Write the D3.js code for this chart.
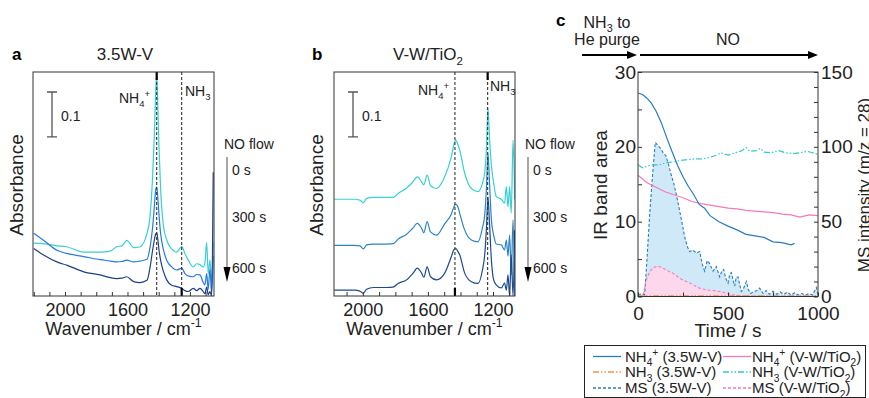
<!DOCTYPE html>
<html>
<head>
<meta charset="utf-8">
<script src="https://d3js.org/d3.v7.min.js"></script>
<style>
body { margin: 0; background: #fff; }
svg { display: block; font-family: "Liberation Sans", Arial, sans-serif; }
</style>
</head>
<body>
<svg id="chart" width="869" height="398"></svg>
<script>
// ---- panel a: 3.5W-V spectra (wavenumber / absorbance) ----
const waveA = [2200, 2140, 2045, 1990, 1880, 1775, 1710, 1670, 1635, 1605, 1560, 1520, 1475, 1455, 1440, 1428, 1420, 1413, 1407, 1399, 1388, 1371, 1349, 1317, 1285, 1253, 1232, 1211, 1179, 1157, 1136, 1115, 1104, 1093, 1083, 1072, 1061, 1051];
const a0s = [0.118, 0.117, 0.112, 0.110, 0.098, 0.098, 0.100, 0.110, 0.112, 0.124, 0.108, 0.110, 0.140, 0.180, 0.260, 0.360, 0.450, 0.495, 0.440, 0.340, 0.240, 0.160, 0.125, 0.105, 0.098, 0.110, 0.095, 0.080, 0.065, 0.072, 0.070, 0.065, 0.075, 0.120, 0.050, 0.080, 0.030, 0.120];
const a300s = [0.140, 0.125, 0.101, 0.095, 0.088, 0.081, 0.078, 0.076, 0.077, 0.080, 0.076, 0.078, 0.082, 0.110, 0.150, 0.200, 0.235, 0.243, 0.225, 0.185, 0.140, 0.105, 0.080, 0.065, 0.058, 0.062, 0.050, 0.045, 0.043, 0.048, 0.047, 0.030, 0.025, 0.050, 0.015, 0.060, 0.005, 0.090];
const a600s = [0.106, 0.092, 0.075, 0.069, 0.054, 0.047, 0.041, 0.039, 0.040, 0.043, 0.032, 0.030, 0.035, 0.065, 0.100, 0.125, 0.138, 0.141, 0.130, 0.105, 0.080, 0.056, 0.036, 0.024, 0.021, 0.017, 0.012, 0.010, 0.017, 0.012, 0.017, 0.010, 0.005, 0.020, 0.003, 0.010, 0.000, 0.276];

// ---- panel b: V-W/TiO2 spectra ----
const waveB = [2175, 2050, 2018, 1997, 1977, 1936, 1854, 1813, 1783, 1731, 1691, 1666, 1639, 1625, 1605, 1584, 1547, 1497, 1456, 1441, 1429, 1415, 1405, 1374, 1333, 1292, 1265, 1251, 1241, 1231, 1221, 1210, 1196, 1180, 1149, 1129, 1118, 1108, 1098, 1088, 1077, 1067];
const b0s = [0.216, 0.216, 0.214, 0.208, 0.218, 0.220, 0.220, 0.220, 0.229, 0.241, 0.255, 0.266, 0.255, 0.248, 0.270, 0.246, 0.240, 0.266, 0.311, 0.337, 0.348, 0.337, 0.326, 0.274, 0.240, 0.233, 0.252, 0.275, 0.326, 0.419, 0.348, 0.292, 0.252, 0.222, 0.216, 0.207, 0.244, 0.199, 0.244, 0.185, 0.348, 0.216];
const b300s = [0.113, 0.113, 0.112, 0.105, 0.114, 0.116, 0.116, 0.117, 0.127, 0.138, 0.152, 0.162, 0.151, 0.141, 0.166, 0.143, 0.136, 0.161, 0.183, 0.198, 0.205, 0.198, 0.185, 0.147, 0.125, 0.121, 0.152, 0.181, 0.237, 0.319, 0.248, 0.170, 0.136, 0.116, 0.114, 0.103, 0.125, 0.089, 0.136, 0.047, 0.170, 0.000];
const b600s = [0.013, 0.013, 0.011, 0.006, 0.015, 0.019, 0.019, 0.020, 0.028, 0.036, 0.051, 0.062, 0.051, 0.042, 0.065, 0.043, 0.036, 0.051, 0.088, 0.103, 0.106, 0.099, 0.092, 0.051, 0.032, 0.028, 0.058, 0.092, 0.147, 0.221, 0.158, 0.080, 0.036, 0.025, 0.018, 0.029, 0.013, 0.047, 0.000, 0.092, 0.000, 0.147];

// ---- panel c: IR band area (left axis) and MS intensity (right axis) vs time ----
const tNH4a = [0, 25, 50, 75, 100, 130, 160, 190, 220, 250, 280, 310, 340, 370, 400, 450, 500, 550, 600, 650, 700, 750, 800, 850, 870];
const nh4a = [27.2, 27.0, 26.5, 25.8, 24.8, 23.2, 21.2, 19.3, 17.5, 16.0, 14.7, 13.6, 12.3, 11.8, 10.8, 10.0, 9.4, 8.9, 8.3, 8.1, 7.9, 7.3, 7.2, 6.9, 7.1];
const tNH4b = [0, 50, 100, 150, 200, 250, 300, 350, 400, 450, 500, 550, 600, 650, 700, 750, 800, 850, 900, 950, 1000];
const nh4b = [16.2, 15.2, 14.6, 14.0, 13.6, 13.2, 12.7, 12.4, 12.2, 12.0, 11.8, 11.7, 11.5, 11.4, 11.3, 11.2, 11.0, 10.9, 10.6, 10.9, 10.8];
const tNH3a = [0, 100, 200, 300, 400, 500, 600, 700, 800, 900, 1000];
const nh3a = [0.05, 0.05, 0.05, 0.05, 0.05, 0.05, 0.05, 0.05, 0.05, 0.05, 0.05];
const tNH3b = [0, 25, 50, 80, 120, 160, 200, 240, 280, 320, 360, 400, 440, 460, 500, 540, 580, 600, 620, 660, 680, 700, 740, 780, 820, 860, 900, 940, 1000];
const nh3b = [17.6, 17.2, 17.4, 17.6, 17.6, 17.9, 18.0, 18.2, 18.3, 18.4, 18.4, 18.6, 18.9, 19.2, 18.9, 19.2, 19.5, 19.9, 19.4, 19.5, 19.8, 19.3, 19.2, 19.5, 19.2, 19.1, 19.2, 19.4, 19.0];
const tMSa = [0, 20, 37, 50, 65, 80, 96, 110, 125, 140, 155, 170, 185, 200, 215, 230, 245, 259, 275, 287, 305, 324, 343, 356, 370, 385, 398, 417, 435, 454, 465, 476, 488, 500, 510, 519, 528, 537, 546, 556, 565, 574, 585, 602, 612, 625, 640, 660, 676, 695, 712, 730, 750, 770, 790, 810, 830, 850, 870, 890, 910, 930, 950, 970, 991, 1000];
const msA = [1.5, 1.5, 1, 25, 55, 80, 103, 101, 99, 96, 94, 88, 81, 75, 67, 58, 49, 40, 33, 30, 31, 29, 30, 22, 17, 24, 22, 17, 20, 13, 17, 18, 12, 9, 15, 16, 11, 7, 13, 13, 8, 3.3, 5, 10, 5, 2, 3, 4, 5.6, 2, 4, 1.5, 3.5, 1.5, 3, 1.5, 3, 1, 2.5, 1, 2, 1, 2, 1, 6, 1];
const tMSb = [0, 20, 30, 46, 60, 74, 90, 102, 115, 130, 145, 157, 175, 194, 212, 231, 250, 269, 288, 306, 325, 343, 362, 380, 400, 420, 437, 454, 472, 491, 510, 528, 547, 565, 600, 700, 800, 900, 1000];
const msB = [0, 0.5, 2, 11, 15, 18, 19.5, 20, 20, 19.5, 18.5, 17.8, 16.5, 15.6, 14, 12.2, 11, 10, 9, 7.8, 6.5, 5.6, 5, 4.4, 4.2, 4, 3.6, 3.3, 2.8, 2.2, 1.6, 1.1, 0.8, 0.5, 0.3, 0.2, 0.2, 0.1, 0.1];

const timeLabels = ["0 s", "300 s", "600 s"];

const svg = d3.select("#chart");
const ink = "#222";

// write text with sub/superscripts: parts = [[str, ""|"sub"|"sup"], ...]
function rich(t, parts, size) {
  let shift = 0;
  parts.forEach(([s, kind]) => {
    const target = kind === "sub" ? size * 0.28 : kind === "sup" ? -size * 0.42 : 0;
    t.append("tspan").attr("dy", target - shift)
      .attr("font-size", kind ? size * 0.68 : size).text(s);
    shift = target;
  });
  return t;
}

function arrowHead(x, y, dir, w, h) {
  // dir: "down" or "right"
  const p = dir === "down"
    ? [[x - w / 2, y - h], [x + w / 2, y - h], [x, y]]
    : [[x - h, y - w / 2], [x - h, y + w / 2], [x, y]];
  svg.append("path").attr("d", "M" + p.join("L") + "Z").attr("fill", "#000");
}

const yAbs = d3.scaleLinear().domain([0, 0.5]).range([296, 72]);

function spectra(p) {
  const x = p.x, [x0, x1] = x.range();
  const g = svg.append("g");
  g.append("clipPath").attr("id", "clip" + p.letter)
    .append("rect").attr("x", x0).attr("y", 72).attr("width", x1 - x0).attr("height", 224);

  const line = d3.line().curve(d3.curveMonotoneX).x((d, i) => x(p.waves[i])).y(d => yAbs(d));
  p.series.forEach((s, k) => {
    g.append("path").attr("clip-path", `url(#clip${p.letter})`)
      .attr("d", line(s)).attr("fill", "none")
      .attr("stroke", p.colors[k]).attr("stroke-width", 1.2);
  });

  // band positions
  [p.nh4, p.nh3].forEach(w => {
    g.append("line").attr("x1", x(w)).attr("x2", x(w)).attr("y1", 72).attr("y2", 296)
      .attr("stroke", "#333").attr("stroke-width", 1.1).attr("stroke-dasharray", "3,2");
  });
  g.append("line").attr("x1", x(p.topMark)).attr("x2", x(p.topMark)).attr("y1", 72).attr("y2", 80)
    .attr("stroke", "#000").attr("stroke-width", 2.2);
  g.append("line").attr("x1", x(p.botMark)).attr("x2", x(p.botMark)).attr("y1", 288).attr("y2", 296)
    .attr("stroke", "#000").attr("stroke-width", 2.2);

  const [dMax, dMin] = x.domain();
  const ax = g.append("g").attr("transform", "translate(0,296)")
    .call(d3.axisBottom(x)
      .tickValues(d3.range(1100, 2201, 100).filter(v => v <= dMax && v >= dMin))
      .tickSize(-4).tickPadding(7)
      .tickFormat(d => d % 400 === 0 ? d : ""));
  ax.select(".domain").remove();
  ax.selectAll("line").attr("stroke", "#333");
  ax.selectAll("text").attr("font-size", 18).attr("font-family", "Liberation Sans, Arial, sans-serif").attr("fill", ink);

  g.append("rect").attr("x", x0).attr("y", 72).attr("width", x1 - x0).attr("height", 224)
    .attr("fill", "none").attr("stroke", "#333").attr("stroke-width", 1);

  // scale bar 0.1
  const sb = p.barX, top = 92, bot = top + (yAbs(0) - yAbs(0.1));
  g.append("path").attr("d", `M${sb - 5},${top}H${sb + 5}M${sb},${top}V${bot}M${sb - 5},${bot}H${sb + 5}`)
    .attr("stroke", "#555").attr("stroke-width", 1.3).attr("fill", "none");
  g.append("text").attr("x", sb + 9).attr("y", 121).attr("font-size", 14).attr("fill", ink).text("0.1");

  // labels
  g.append("text").attr("x", p.letterX).attr("y", 60).attr("font-size", 17).attr("font-weight", "bold").text(p.letter);
  rich(g.append("text").attr("x", p.titleX).attr("y", 60).attr("text-anchor", "middle").attr("fill", ink), p.title, 17);
  g.append("text").attr("transform", `translate(${p.ylabX},185) rotate(-90)`)
    .attr("text-anchor", "middle").attr("font-size", 19).attr("fill", ink).text("Absorbance");
  rich(g.append("text").attr("x", (x0 + x1) / 2).attr("y", 335).attr("text-anchor", "middle").attr("fill", ink),
    [["Wavenumber / cm", ""], ["-1", "sup"]], 18);
  rich(g.append("text").attr("x", p.nh4LabX).attr("y", p.nh4LabY).attr("fill", ink),
    [["NH", ""], ["4", "sub"], ["+", "sup"]], 14);
  rich(g.append("text").attr("x", p.nh3LabX).attr("y", p.nh3LabY).attr("fill", ink),
    [["NH", ""], ["3", "sub"]], 14);

  // NO flow arrow
  const ar = p.arrowX;
  g.append("text").attr("x", ar - 3).attr("y", 149).attr("font-size", 14).attr("fill", ink).text("NO flow");
  g.append("line").attr("x1", ar).attr("x2", ar).attr("y1", 157).attr("y2", 268)
    .attr("stroke", "#777").attr("stroke-width", 1.3);
  arrowHead(ar, 282, "down", 7, 15);
  [175, 222, 273].forEach((yy, i) => {
    g.append("text").attr("x", ar + 5).attr("y", yy).attr("font-size", 14).attr("fill", ink).text(timeLabels[i]);
  });
}

spectra({
  letter: "a", letterX: 12, titleX: 125, title: [["3.5W-V", ""]],
  x: d3.scaleLinear().domain([2205, 1046]).range([33, 214]),
  waves: waveA, series: [a0s, a300s, a600s],
  colors: ["#36d0d6", "#2479e8", "#1d3f88"],
  nh4: 1413, nh3: 1253, topMark: 1413, botMark: 1253,
  barX: 52, ylabX: 23,
  nh4LabX: 119, nh4LabY: 103, nh3LabX: 185, nh3LabY: 96,
  arrowX: 227
});

spectra({
  letter: "b", letterX: 312, titleX: 428, title: [["V-W/TiO", ""], ["2", "sub"]],
  x: d3.scaleLinear().domain([2177, 1065]).range([334, 515]),
  waves: waveB, series: [b0s, b300s, b600s],
  colors: ["#36d0d6", "#2b84c4", "#1c4a92"],
  nh4: 1434, nh3: 1233, topMark: 1233, botMark: 1434,
  barX: 353, ylabX: 323,
  nh4LabX: 418, nh4LabY: 95, nh3LabX: 490, nh3LabY: 91,
  arrowX: 528
});

// ---- panel c ----
const xT = d3.scaleLinear().domain([0, 1000]).range([638, 818]);
const yIR = d3.scaleLinear().domain([0, 30]).range([296.5, 72]);
const yMS = d3.scaleLinear().domain([0, 150]).range([296.5, 72]);

const cBlue = "#2a7cc0", cPink = "#f57ab9", cOrange = "#f29444", cCyan = "#35c8cc";

const gc = svg.append("g");
gc.append("clipPath").attr("id", "clipc").append("rect")
  .attr("x", 638).attr("y", 72).attr("width", 180).attr("height", 224.5);
const pc = gc.append("g").attr("clip-path", "url(#clipc)");

function area(ts, vs) {
  return d3.area().x((d, i) => xT(ts[i])).y0(yMS(0)).y1(d => yMS(d))(vs);
}
function path(ts, vs, y) {
  return d3.line().x((d, i) => xT(ts[i])).y(d => y(d))(vs);
}
pc.append("path").attr("d", area(tMSa, msA)).attr("fill", "#cfe9f9");
pc.append("path").attr("d", area(tMSb, msB)).attr("fill", "#fdd7eb");

const seriesC = [
  { t: tMSa, v: msA, y: yMS, color: cBlue, dash: "3,2", w: 1.1 },
  { t: tMSb, v: msB, y: yMS, color: cPink, dash: "3,2", w: 1.1 },
  { t: tNH3a, v: nh3a, y: yIR, color: cOrange, dash: "6,2,1.5,2,1.5,2", w: 1.6 },
  { t: tNH3b, v: nh3b, y: yIR, color: cCyan, dash: "6,2,1.5,2,1.5,2", w: 1.2 },
  { t: tNH4b, v: nh4b, y: yIR, color: cPink, dash: null, w: 1.2 },
  { t: tNH4a, v: nh4a, y: yIR, color: cBlue, dash: null, w: 1.2 }
];
seriesC.forEach(s => {
  pc.append("path").attr("d", path(s.t, s.v, s.y)).attr("fill", "none")
    .attr("stroke", s.color).attr("stroke-width", s.w)
    .attr("stroke-dasharray", s.dash);
});

function styleAxis(a, size) {
  a.select(".domain").remove();
  a.selectAll("line").attr("stroke", "#333");
  a.selectAll("text").attr("font-size", size).attr("font-family", "Liberation Sans, Arial, sans-serif").attr("fill", ink);
}
styleAxis(gc.append("g").attr("transform", "translate(0,296.5)")
  .call(d3.axisBottom(xT).tickValues([0, 250, 500, 750, 1000]).tickSize(-4).tickPadding(10)
    .tickFormat(d => d % 500 === 0 ? d : "")), 19);
styleAxis(gc.append("g").attr("transform", "translate(638,0)")
  .call(d3.axisLeft(yIR).tickValues(d3.range(0, 31, 5)).tickSize(-4).tickPadding(2)
    .tickFormat(d => d % 10 === 0 ? d : "")), 19);
styleAxis(gc.append("g").attr("transform", "translate(818,0)")
  .call(d3.axisRight(yMS).tickValues(d3.range(0, 151, 10)).tickSize(-4).tickPadding(3)
    .tickFormat(d => d % 50 === 0 ? d : "")), 19);

gc.append("rect").attr("x", 638).attr("y", 72).attr("width", 180).attr("height", 224.5)
  .attr("fill", "none").attr("stroke", "#333");

gc.append("text").attr("x", 728).attr("y", 337).attr("text-anchor", "middle")
  .attr("font-size", 19).attr("fill", ink).text("Time / s");
gc.append("text").attr("transform", "translate(607,185) rotate(-90)").attr("text-anchor", "middle")
  .attr("font-size", 19).attr("fill", ink).text("IR band area");
gc.append("text").attr("transform", "translate(870,185) rotate(-90)").attr("text-anchor", "middle")
  .attr("font-size", 17).attr("fill", ink).text("MS intensity (m/z = 28)");

gc.append("text").attr("x", 556).attr("y", 26).attr("font-size", 17).attr("font-weight", "bold").text("c");
rich(gc.append("text").attr("x", 607).attr("y", 28).attr("text-anchor", "middle").attr("fill", ink),
  [["NH", ""], ["3", "sub"], [" to", ""]], 16);
gc.append("text").attr("x", 607).attr("y", 45).attr("text-anchor", "middle").attr("font-size", 16).attr("fill", ink).text("He purge");
gc.append("text").attr("x", 728).attr("y", 45).attr("text-anchor", "middle").attr("font-size", 16).attr("fill", ink).text("NO");
gc.append("line").attr("x1", 582).attr("x2", 628).attr("y1", 55).attr("y2", 55).attr("stroke", "#000").attr("stroke-width", 1.8);
arrowHead(637, 55, "right", 8, 10);
gc.append("line").attr("x1", 640).attr("x2", 809).attr("y1", 55).attr("y2", 55).attr("stroke", "#000").attr("stroke-width", 1.8);
arrowHead(818, 55, "right", 8, 10);

// legend
const legendItems = [
  { parts: [["NH", ""], ["4", "sub"], ["+", "sup"], [" (3.5W-V)", ""]], color: cBlue, dash: null },
  { parts: [["NH", ""], ["4", "sub"], ["+", "sup"], [" (V-W/TiO", ""], ["2", "sub"], [")", ""]], color: cPink, dash: null },
  { parts: [["NH", ""], ["3", "sub"], [" (3.5W-V)", ""]], color: cOrange, dash: "6,2,1.5,2,1.5,2" },
  { parts: [["NH", ""], ["3", "sub"], [" (V-W/TiO", ""], ["2", "sub"], [")", ""]], color: cCyan, dash: "6,2,1.5,2,1.5,2" },
  { parts: [["MS (3.5W-V)", ""]], color: cBlue, dash: "3,2" },
  { parts: [["MS (V-W/TiO", ""], ["2", "sub"], [")", ""]], color: cPink, dash: "3,2" }
];
const lg = svg.append("g");
lg.append("rect").attr("x", 584.5).attr("y", 345.5).attr("width", 281).attr("height", 52)
  .attr("fill", "#fff").attr("stroke", "#222");
const rowY = [356.5, 372, 388];
legendItems.forEach((it, i) => {
  const col = i % 2, row = Math.floor(i / 2);
  const lx = col === 0 ? 593 : 723, tx = col === 0 ? 625 : 752;
  lg.append("line").attr("x1", lx).attr("x2", lx + 28).attr("y1", rowY[row]).attr("y2", rowY[row])
    .attr("stroke", it.color).attr("stroke-width", 1.3).attr("stroke-dasharray", it.dash);
  rich(lg.append("text").attr("x", tx).attr("y", rowY[row] + 5.3).attr("fill", ink), it.parts, 15);
});
</script>
</body>
</html>
